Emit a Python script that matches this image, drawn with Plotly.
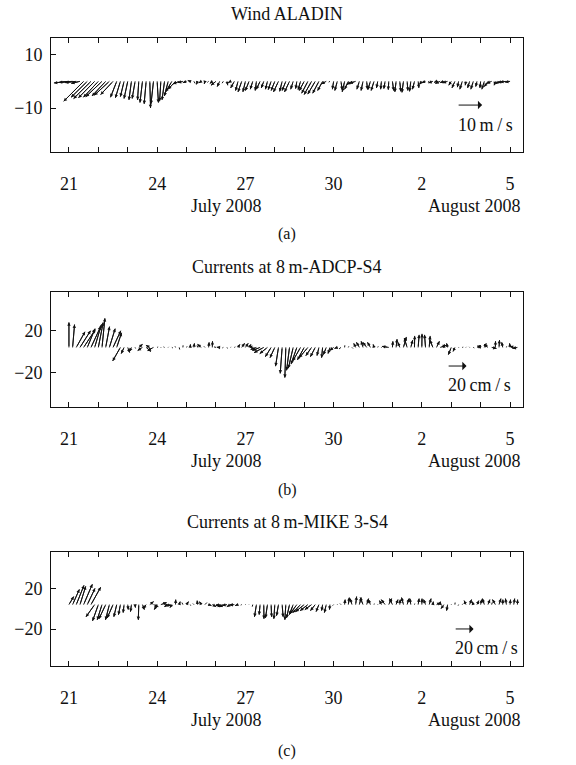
import plotly.graph_objects as go

# ---------------- data (3-hourly samples starting 21 July 2008 00:00) ----------------
T0 = 21.0          # day of July of the first sample
DT = 0.125         # sampling interval in days (3 h)

# Wind ALADIN (m/s): east (u) and north (v) components
wind_u = [-6, -5.5, -4.5, -3.5, -8, -6.5, -7, -6.5,
          -6, -6.5, -5.5, -6, -5, -2.5, -2, -1.5,
          -1.5, -1, -1.2, -0.5, -1, -0.8, 0.3, -1,
          0.5, -0.5, -1, -1.5, -2.5, -3, -2.5, -2,
          -1.5, -1, 0.5, -0.5, -1, -0.3, -0.5, -1,
          -2, -1, -0.5, 0.3, -1, -1.5, -1, -1.5,
          -1, -1.5, -1, -0.5, -1.5, -1, -0.8, -1.2,
          -1.5, -2, -1, -1.5, -2, -1, -0.5, -1,
          -2, -2.5, -3, -3, -2.5, -2, -2, -0.5,
          -0.5, -1, 0.5, -1, -1.5, -2, -2.5, -1,
          -0.8, 0.3, -1, -1.2, -0.5, -0.3, -0.5, -0.2,
          0.5, -0.5, 0.4, -0.6, 0.3, -0.5, -0.8, 0.3,
          -1, -1.5, -0.5, -1.8, -1, -2, -1.5, -2,
          -1, -1.2, -0.5, -1, -0.3, -0.8, -1, -0.5,
          -0.3, -1, -1.5, -2, -0.5, -1.5, -2, -2.5,
          -2]
wind_v = [-0.6, -0.4, -0.5, -0.8, -7.5, -6, -6.5, -6.2,
          -6, -5.8, -5.5, -5.2, -5, -6, -6.2, -5.8,
          -6.5, -7, -6.5, -7, -8, -8.5, -10, -8.5,
          -8, -7.5, -7, -5.5, -4, -3, -1, -0.5,
          -0.5, 0.3, -0.8, -1.2, -0.6, -1, -0.4, -0.8,
          -1.5, -2, -0.7, -1.5, -0.5, -2.5, -3.5, -4,
          -4, -3.5, -3, -3.5, -3, -2.5, -3, -3.2,
          -3.5, -4, -3.8, -3.5, -4, -3, -2.8, -3.2,
          -3.5, -4.5, -5, -4.8, -4.5, -3.5, -1, -0.3,
          -3, -3.5, -3.2, -4, -3, -1.2, -0.8, -3,
          -3.5, -3, -3.2, -3.5, -2.5, -3, -2.8, -3.2,
          -3.5, -4, -3.8, -4.2, -3.5, -3.8, -3, -2.5,
          -1.2, -0.5, -0.3, -0.6, -0.4, -0.8, -0.5, -0.6,
          -1.5, -2.5, -2.2, -3, -1.5, -2.5, -3, -2,
          -2.5, -3, -2, -0.8, -1.5, -1, -0.5, -0.3,
          -0.3]

# Currents at 8 m, ADCP-S4 (cm/s)
adcp_u = [0, 2, 9, 11, 12, 8, 10, 7,
          5, 3, 4, 6, 8, 5, -8, -3,
          2, -2, 0.5, 4, -5, 5, -4, -6,
          1, 0.5, -1, 0.5, 1, -0.5, 0.5, 0.2,
          0.5, 0.2, 0.5, -0.5, -4, -1, 0.5, 0.2,
          -2, -3, -1, 0.5, 0.3, 1, 2, 3,
          3, 2, -4, -6, -8, -10, -8, -6,
          -5, -3, -2, -1, -3, -5, -6, -8,
          -7, -9, -6, -5, -2, -1, -3, -2,
          -4, -3, -2, 0.2, 0.5, 1, -2, -3,
          -2, -4, -3, -1, 0.5, 0.3, -1, -7,
          0.5, 1, -2, 3, -3, 2, 0.2, 1,
          0.2, -1, 1, -3, 3, 6, 0.5, -1,
          -3, -2, 0.5, 1, 0.5, -0.5, 1, 4,
          -3, 2, -4, 5, 0.2, 0.5, -1, 0.3,
          -0.5, -4, -5]
adcp_v = [24, 22, 15, 16, 17, 18, 20, 22,
          24, 28, 20, 18, 16, 14, -13, -6,
          -5, -4, -1, 3, -3, -4, 2, -3,
          0.5, -0.5, 0.5, 0.5, -0.5, 1, -2, 2,
          1, 3, 4, 2, 3, 1, 5, 6,
          0.5, 0.2, -0.5, -1, 0.5, 0.5, 3, 4,
          4, 3, 1, -2, -3, -5, -6, -9,
          -10, -18, -25, -29, -22, -20, -16, -13,
          -12, -10, -8, -9, -8, -10, -7, -6,
          -3, -1, -1.5, 2, 1, -1, 4, 5,
          6, 5, 5, 3, 1, -0.5, 0.5, 1,
          6, 8, 5, 10, 9, 7, 11, 12,
          13, 12, 11, 7, 6, 2, 3, 4,
          -7, -4, -0.5, 0.3, 0.5, 0.5, -0.5, 2,
          1, 4, 3, -1, 6, 7, 5, 1,
          4, 1, -1]

# Currents at 8 m, MIKE 3-S4 (cm/s)
mike_u = [5, 7, 8, 6, 9, 8, 10, -9,
          -6, -5, -7, -4, -6, -3, -2, -1,
          0.5, -1, 0.3, -0.5, 2, -3, 4, 5,
          -3, 6, 7, -4, -2, 0.2, 1, -1,
          2, 0.5, -1, -0.5, -2, 2, 3, 4,
          7, -4, -6, -5, -4, -5, -3, -1,
          0.5, 0.3, -0.5, -2, -1, 0.2, -2, 0.5,
          -1, -2, 1, -1, -3, -4, -7, -8,
          -9, -8, -7, -5, -3, -1, -2, -0.5,
          -1, 0.5, -1, 0.5, 1, -2, 1, 2,
          -3, 2, -2, 0.3, 0.5, -2, -4, 3,
          -3, 2, 0.5, -2, 2, -1, 0.3, 1,
          0.2, -2, 2, 0.5, 4, 0.2, -3, -1,
          0.5, 0.2, -0.5, 1, -2, 2, -1, 2,
          1, -2, 2, 0.5, -3, 2, 0.2, -1,
          0.5, 1, 0.2]
mike_v = [8, 15, 19, 18, 20, 16, 17, -12,
          -16, -15, -14, -15, -13, -12, -10, -8,
          -5, -7, -3, -15, -5, -4, 3, -2,
          -5, 2, -1, -2, -3, 5, 3, 2,
          3, -1, 1, 4, 3, 2, -1, -2,
          -2, -1, -2, -1, -2, -0.5, -1, -0.5,
          0.3, -0.3, -2, -12, -10, -14, -13, -12,
          -14, -11, -12, -15, -13, -10, -9, -8,
          -7, -6, -5, -6, -7, -6, -8, -5,
          -1, 0.5, 1, 5, 7, 6, 8, 7,
          7, 6, 5, 1, 0.5, 4, 5, 6,
          6, 5, 5, 7, 6, 6, 1, 6,
          6, 5, 6, 3, 2, 3, -4, -6,
          0.5, 2, -1, 1, 4, 5, 3, 4,
          5, 6, 5, 2, 5, 6, 5, 6,
          5, 6, 5]

# Axis ticks: days (July days continue as 32 = 1 August, ...)
tick_days = list(range(21, 37))
tick_text = ["21", "", "", "24", "", "", "27", "", "", "30", "", "", "2", "", "", "5"]

panels = [
    dict(title="Wind ALADIN", u=wind_u, v=wind_v, base=0.0, kx=0.085,
         yrange=[-26.5, 16.25], ytick=[-10, 10], ytext=["\u221210", "10"],
         scale=10, scale_label="10\u2009m\u2009/\u2009s", scale_xy=(34.2, -8.9), label_y=-16.4,
         frame=(38, 152), title_y=14, month_y=206, tag="(a)", tag_y=234),
    dict(title="Currents at 8\u2009m-ADCP-S4", u=adcp_u, v=adcp_v, base=4.0, kx=0.033,
         yrange=[-53, 57], ytick=[-20, 20], ytext=["\u221220", "20"],
         scale=20, scale_label="20\u2009cm\u2009/\u2009s", scale_xy=(33.86, -13.8), label_y=-32,
         frame=(292, 407), title_y=267, month_y=461, tag="(b)", tag_y=490),
    dict(title="Currents at 8\u2009m-MIKE 3-S4", u=mike_u, v=mike_v, base=4.0, kx=0.033,
         yrange=[-56, 55.4], ytick=[-20, 20], ytext=["\u221220", "20"],
         scale=20, scale_label="20\u2009cm\u2009/\u2009s", scale_xy=(34.1, -19.8), label_y=-38.4,
         frame=(552, 666), title_y=522, month_y=720, tag="(c)", tag_y=751),
]

W, H = 576, 765
FONT = "Liberation Serif"
INK = "#111111"
X0, X1 = 51, 523
XRANGE = [20.39, 36.44]

fig = go.Figure()
annotations = []
layout = {}

def py(px):
    return 1 - px / H

for i, p in enumerate(panels):
    n = i + 1
    xa = "x" if n == 1 else f"x{n}"
    ya = "y" if n == 1 else f"y{n}"
    xkey = "xaxis" if n == 1 else f"xaxis{n}"
    ykey = "yaxis" if n == 1 else f"yaxis{n}"
    top, bot = p["frame"]
    times = [T0 + k * DT for k in range(len(p["u"]))]

    layout[xkey] = dict(domain=[X0 / W, X1 / W], range=XRANGE, anchor=ya,
                        tickmode="array", tickvals=tick_days, ticktext=tick_text,
                        ticks="inside", ticklen=5, tickwidth=1, tickcolor=INK,
                        showline=True, linecolor=INK, linewidth=1, mirror="ticks",
                        showgrid=False, zeroline=False, ticklabelstandoff=15,
                        tickfont=dict(family=FONT, size=18, color=INK))
    layout[ykey] = dict(domain=[py(bot), py(top)], range=p["yrange"], anchor=xa,
                        tickmode="array", tickvals=p["ytick"], ticktext=p["ytext"],
                        ticks="inside", ticklen=5, tickwidth=1, tickcolor=INK,
                        showline=True, linecolor=INK, linewidth=1, mirror=True,
                        showgrid=False, zeroline=False, ticklabelstandoff=4,
                        tickfont=dict(family=FONT, size=18, color=INK))

    # stick shafts: one line trace, segments separated by None
    sx_line, sy_line = [], []
    for t, u, v in zip(times, p["u"], p["v"]):
        sx_line += [t, t + u * p["kx"], None]
        sy_line += [p["base"], p["base"] + v, None]
    fig.add_trace(go.Scatter(x=sx_line, y=sy_line, mode="lines",
                             line=dict(color=INK, width=1.0),
                             xaxis=xa, yaxis=ya, showlegend=False, hoverinfo="skip"))

    # arrow heads
    for t, u, v in zip(times, p["u"], p["v"]):
        annotations.append(dict(x=t + u * p["kx"], y=p["base"] + v, ax=t, ay=p["base"],
                                xref=xa, yref=ya, axref=xa, ayref=ya, text="",
                                showarrow=True, arrowhead=2, arrowsize=0.75,
                                arrowwidth=0.9, arrowcolor=INK))

    # scale arrow and its label
    sx, sy = p["scale_xy"]
    annotations.append(dict(x=sx + p["scale"] * p["kx"], y=sy, ax=sx, ay=sy,
                            xref=xa, yref=ya, axref=xa, ayref=ya, text="",
                            showarrow=True, arrowhead=1, arrowsize=1.4,
                            arrowwidth=1, arrowcolor=INK))
    annotations.append(dict(x=sx - 0.05, y=p["label_y"], xref=xa, yref=ya, text=p["scale_label"],
                            showarrow=False, xanchor="left", yanchor="middle",
                            font=dict(family=FONT, size=18, color=INK)))

    # titles and labels
    annotations.append(dict(x=(X0 + X1) / 2 / W, y=py(p["title_y"]), xref="paper", yref="paper",
                            text=p["title"], showarrow=False, xanchor="center", yanchor="middle",
                            font=dict(family=FONT, size=18, color=INK)))
    annotations.append(dict(x=226 / W, y=py(p["month_y"]), xref="paper", yref="paper",
                            text="July 2008", showarrow=False, xanchor="center", yanchor="middle",
                            font=dict(family=FONT, size=18, color=INK)))
    annotations.append(dict(x=X1 / W, y=py(p["month_y"]), xref="paper", yref="paper",
                            text="August 2008", showarrow=False, xanchor="right", yanchor="middle",
                            font=dict(family=FONT, size=18, color=INK)))
    annotations.append(dict(x=287 / W, y=py(p["tag_y"]), xref="paper", yref="paper",
                            text=p["tag"], showarrow=False, xanchor="center", yanchor="middle",
                            font=dict(family=FONT, size=16, color=INK)))

fig.update_layout(width=W, height=H, autosize=False,
                  margin=dict(l=0, r=0, t=0, b=0),
                  paper_bgcolor="white", plot_bgcolor="white",
                  annotations=annotations, showlegend=False,
                  font=dict(family=FONT, size=18, color=INK),
                  **layout)

fig.write_html("out.html")
